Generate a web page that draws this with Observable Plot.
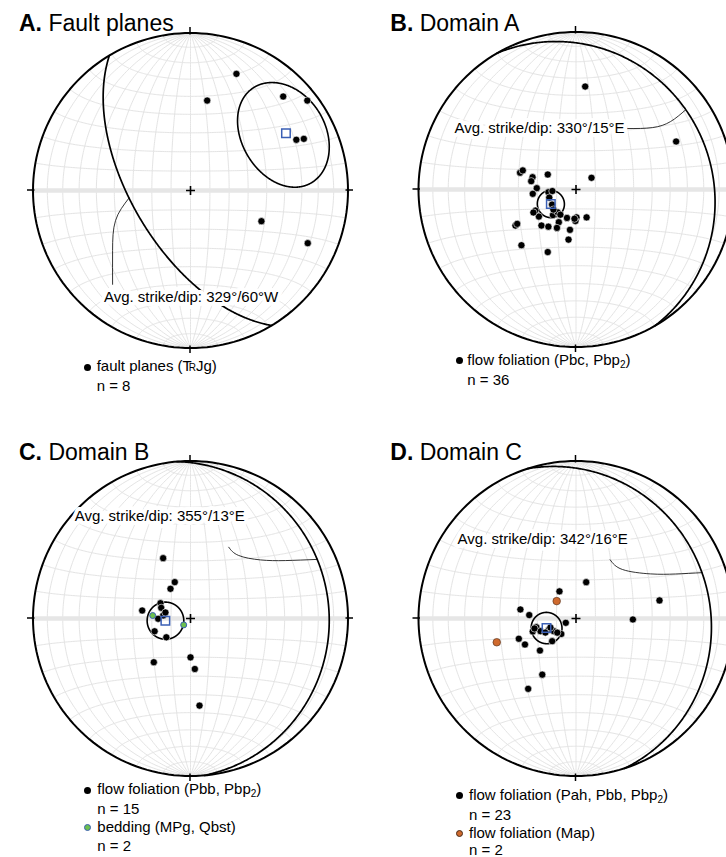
<!DOCTYPE html>
<html><head><meta charset="utf-8">
<script src="https://cdn.jsdelivr.net/npm/d3@7"></script>
<script src="https://cdn.jsdelivr.net/npm/@observablehq/plot@0.6"></script>
<style>
html,body{margin:0;padding:0;background:#fff;overflow:hidden;}
#fig{position:relative;width:726px;height:857px;overflow:hidden;font-family:"Liberation Sans",Arial,Helvetica,sans-serif;color:#000;}
.panel{position:absolute;}
.t{position:absolute;white-space:nowrap;line-height:1;}
.title{font-size:23px;}
.leg{font-size:15px;}
.dot{position:absolute;border-radius:50%;box-sizing:border-box;}
sub{font-size:10px;line-height:0;vertical-align:-3px;}
.tt{letter-spacing:-3px;}
.tr{font-size:10px;}
</style></head><body><div id="fig"></div><script>
// ---------------- data ----------------
const panelLetters = ["A", "B", "C", "D"];
const panelTitles = ["Fault planes", "Domain A", "Domain B", "Domain C"];

// poles to planes, [trend°, plunge°] (lower hemisphere)
const polesA = [[21.5,21.5],[10.5,41.5],[44.6,17.3],[52.4,7.1],[64.4,26.4],[65.5,22],[113.4,49.4],[114.2,19.5]];
const polesB = [[286.7,59.6],[289.7,60.6],[285.8,66.6],[280.5,66.4],[298,73.5],[53,80],[271.9,69.7],[264.3,67.5],
  [264.4,75.7],[266.3,77.8],[237.8,75.4],[242.6,66.3],[233.9,66.2],[222,72.2],[218.7,74.9],[207.7,70.9],
  [197.6,74.6],[179,75.6],[181,73.7],[159.2,74.6],[239.2,53.1],[239.7,54.4],[223.8,64.1],[216.6,66],
  [206.4,67.8],[188.5,68.9],[188.5,63.7],[224.4,49],[204.3,54.1],[5.1,34.7],[64.4,30.2],[253.2,75.6],
  [228.4,74.4],[241.6,64.9],[211.8,74.7],[183,74.9]];
const polesC = [[335.6,55.4],[336.6,69.5],[326,71.5],[297,72.6],[290.1,73.9],[279.4,64.6],[276.3,75.8],[269.5,73.3],
  [250.4,70.3],[232.1,74.2],[220,60.3],[180,69.9],[175.1,63.7],[174.1,43.7],[283.5,76.7]];
const beddingC = [[274.5,70.4],[226.8,85.2]];
const polesD = [[15.7,70.5],[328.6,73.6],[77.8,44.9],[279.2,60.7],[274.2,65.7],[247.1,84.3],[91,60.4],[253.3,66.6],
  [257.6,69],[250.3,70.5],[247.4,74.7],[240.2,76.8],[223.5,79],[226.4,73],[250.5,58.4],[243,60.2],
  [228.4,65],[211,55.8],[214.2,45.1],[256.5,67.9],[245.3,72.6],[250.6,76],[232.9,77.9]];
const mapD = [[312,76.6],[253.3,46.4]];

// average planes
const meanStrike = [329, 330, 355, 342];
const meanDip = [60, 15, 13, 16];
const meanDipDir = [239, 60, 85, 72];
const dipSide = ["W", "E", "E", "E"];
const coneAngle = [25, 7, 9.5, 8];

// annotation anchors [trend°, plunge°]
const labelAt = [[179.7,32.6],[329.1,52.8],[343.2,32.9],[337.3,44.4]];
const leaderPath = [
  [[219.7,23.6],[232.4,37.6],[248.2,47.5],[263,57.7]],
  [[40.2,48],[51,37.6],[54.3,27],[54,15]],
  [[28.2,47.4],[37.3,48.3],[50.1,41.6],[58.6,30.1],[65,12.2]],
  [[30.2,54.5],[43.5,54.7],[59.1,44.1],[65.9,31.4],[70,16]]
];

const primaryPoles = [polesA, polesB, polesC, polesD];
const secondaryPoles = [[], [], beddingC, mapD];
const primaryNames = ["fault planes (<span class=\"tt\">T</span><span class=\"tr\">R</span>Jg)", "flow foliation (Pbc, Pbp<sub>2</sub>)",
  "flow foliation (Pbb, Pbp<sub>2</sub>)", "flow foliation (Pah, Pbb, Pbp<sub>2</sub>)"];
const secondaryNames = [null, null, "bedding (MPg, Qbst)", "flow foliation (Map)"];

// ---------------- styles / layout ----------------
const FONT = "Liberation Sans, Arial, Helvetica, sans-serif";
const R = 157.5;
const layout = [
  {left:0, top:0, cx:190, cy:190},
  {left:363, top:0, cx:212.5, cy:189},
  {left:0, top:429, cx:190, cy:189},
  {left:363, top:429, cx:212.5, cy:189}
];
const titlePos = [[19,31.7],[390.3,31.7],[19,460],[390.3,460]];
const legendPos = [
  {dotX:87.3, textX:96.7, base:[371,391], dotY:[367]},
  {dotX:459.7, textX:467.3, base:[365,385], dotY:[360.7]},
  {dotX:87.7, textX:97.3, base:[793.6,814,831.5,850.7], dotY:[790,827.3]},
  {dotX:459.7, textX:469, base:[799.6,819.3,837.4,854.8], dotY:[795.7,833.3]}
];
const secondaryStyle = [null, null, {fill:"#6cbf4e", stroke:"#3b5fb3", r:3, sw:1}, {fill:"#cf6a2e", stroke:"#4a2a18", r:3.8, sw:0.6}];
const BLUE = "#3a5fb5";

// ---------------- helpers ----------------
const rad = Math.PI / 180;
function toLonLat([trend, plunge]) {
  const t = trend * rad, p = plunge * rad;
  const down = Math.sin(p), east = Math.cos(p) * Math.sin(t), north = Math.cos(p) * Math.cos(t);
  return [Math.atan2(east, down) / rad, Math.asin(Math.max(-1, Math.min(1, north))) / rad];
}
const lineOf = (coords) => ({type: "LineString", coordinates: coords});
function circleAround(tp, radius) {
  const poly = d3.geoCircle().center(toLonLat(tp)).radius(radius).precision(0.5)();
  return lineOf(poly.coordinates[0]);
}
const graticule = [];
for (let lon = -80; lon <= 80; lon += 10) graticule.push(lineOf(d3.range(-90, 90.001, 1).map(lat => [lon, lat])));
for (let lat = -80; lat <= 80; lat += 10) if (lat !== 0) graticule.push(lineOf(d3.range(-90, 90.001, 1).map(lon => [lon, lat])));
const equator = lineOf(d3.range(-90, 90.001, 1).map(lon => [lon, 0]));

function ticksMark(proj) {
  return () => {
    const g = d3.create("svg:g").attr("stroke", "black").attr("stroke-width", 1.5);
    const c = proj([0, 0]);
    for (const ll of [[0, 90], [90, 0], [0, -90], [-90, 0]]) {
      const p = proj(ll), dx = p[0] - c[0], dy = p[1] - c[1], L = Math.hypot(dx, dy);
      const ux = dx / L, uy = dy / L;
      g.append("line").attr("x1", p[0] - ux * 2).attr("y1", p[1] - uy * 2)
        .attr("x2", p[0] + ux * 5.5).attr("y2", p[1] + uy * 5.5);
    }
    return g.node();
  };
}

const fig = document.getElementById("fig");
const lon = d => toLonLat(d)[0], lat = d => toLonLat(d)[1];

for (let i = 0; i < 4; i++) {
  const L = layout[i];
  const proj = d3.geoAzimuthalEqualArea().rotate([0, 0]).clipAngle(90)
    .scale(R / Math.SQRT2).translate([L.cx, L.cy]).precision(0.1);
  const pole = [(meanDipDir[i] + 180) % 360, 90 - meanDip[i]];
  const label = `Avg. strike/dip: ${meanStrike[i]}°/${meanDip[i]}°${dipSide[i]}`;
  const sec = secondaryStyle[i];
  const marks = [
    Plot.geo(graticule, {stroke: "#e4e4e4", strokeWidth: 1, fill: "none"}),
    Plot.geo([equator], {stroke: "#e6e6e6", strokeWidth: 4.5, fill: "none"}),
    Plot.geo([{type: "Sphere"}], {stroke: "black", strokeWidth: 2, fill: "none"}),
    Plot.geo([circleAround(pole, 90)], {stroke: "black", strokeWidth: 1.7, fill: "none"}),
    Plot.geo([circleAround(pole, coneAngle[i])], {stroke: "black", strokeWidth: 1.6, fill: "none"}),
    Plot.line(leaderPath[i], {x: lon, y: lat, curve: "natural", stroke: "black", strokeWidth: 0.8}),
    Plot.text([{p: labelAt[i], s: label}], {x: d => lon(d.p), y: d => lat(d.p), text: "s", fontSize: 15,
      fontFamily: FONT, fill: "black", stroke: "white", strokeWidth: 8, textAnchor: "middle"}),
    Plot.dot(primaryPoles[i], {x: lon, y: lat, r: 3.6, fill: "black", stroke: "white", strokeWidth: 0.6}),
  ];
  if (sec) marks.push(Plot.dot(secondaryPoles[i], {x: lon, y: lat, r: sec.r, fill: sec.fill, stroke: sec.stroke, strokeWidth: sec.sw}));
  marks.push(
    Plot.dot([pole], {x: lon, y: lat, symbol: "square", r: 4.8, fill: "none", stroke: BLUE, strokeWidth: 1.5}),
    Plot.dot([[0, 90]], {x: lon, y: lat, symbol: "plus", r: 3, stroke: "black", strokeWidth: 1.6}),
    ticksMark(proj)
  );
  const svg = Plot.plot({width: 363, height: 428, margin: 0, projection: proj,
    style: {background: "transparent", fontFamily: FONT}, marks});
  const wrap = document.createElement("div");
  wrap.className = "panel";
  wrap.style.left = L.left + "px"; wrap.style.top = L.top + "px";
  wrap.appendChild(svg);
  fig.appendChild(wrap);
}

// titles and legends (HTML)
function addText(html, cls, x, baseline, size) {
  const d = document.createElement("div");
  d.className = "t " + cls;
  d.innerHTML = html;
  d.style.left = x + "px";
  d.style.top = (baseline - 0.8465 * size) + "px";
  fig.appendChild(d);
}
function addDot(x, y, r, fill, stroke, sw) {
  const d = document.createElement("div");
  d.className = "dot";
  d.style.left = (x - r) + "px"; d.style.top = (y - r) + "px";
  d.style.width = d.style.height = (2 * r) + "px";
  d.style.background = fill;
  if (stroke) d.style.border = `${sw}px solid ${stroke}`;
  fig.appendChild(d);
}
for (let i = 0; i < 4; i++) {
  addText(`<b>${panelLetters[i]}.</b> ${panelTitles[i]}`, "title", titlePos[i][0], titlePos[i][1], 23);
  const lg = legendPos[i];
  addDot(lg.dotX, lg.dotY[0], 3.5, "black");
  addText(primaryNames[i], "leg", lg.textX, lg.base[0], 15);
  addText(`n = ${primaryPoles[i].length}`, "leg", lg.textX, lg.base[1], 15);
  if (secondaryNames[i]) {
    const sec = secondaryStyle[i];
    addDot(lg.dotX, lg.dotY[1], 3.5, sec.fill, sec.stroke, sec.sw);
    addText(secondaryNames[i], "leg", lg.textX, lg.base[2], 15);
    addText(`n = ${secondaryPoles[i].length}`, "leg", lg.textX, lg.base[3], 15);
  }
}
</script></body></html>
